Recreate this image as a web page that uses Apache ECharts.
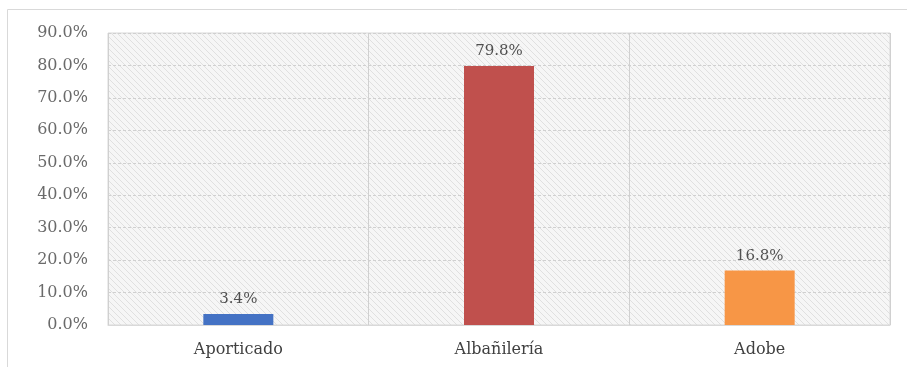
<!DOCTYPE html>
<html><head><meta charset="utf-8">
<script src="https://cdn.jsdelivr.net/npm/echarts@6/dist/echarts.min.js"></script>
<style>html,body{margin:0;padding:0;background:#fff}#c{width:907px;height:367px}</style>
</head><body><div id="c"></div>
<script>
var categories = ['Aporticado', 'Albañilería', 'Adobe'];
var values = [3.4, 79.8, 16.8];
var barColors = ['#4472c4', '#c0504d', '#f79646'];
var yTicks = [0, 10, 20, 30, 40, 50, 60, 70, 80, 90];

function makePattern() {
  var c = document.createElement('canvas');
  c.width = 6; c.height = 6;
  var g = c.getContext('2d');
  g.fillStyle = '#f6f6f6'; g.fillRect(0, 0, 6, 6);
  g.strokeStyle = '#e0e0e0'; g.lineWidth = 1;
  g.beginPath();
  g.moveTo(0, 0); g.lineTo(6, 6);
  g.moveTo(-3, 3); g.lineTo(3, 9);
  g.moveTo(3, -3); g.lineTo(9, 3);
  g.stroke();
  return c;
}

var chart = echarts.init(document.getElementById('c'), null, {renderer: 'canvas'});
var font = '"DejaVu Serif", "Liberation Serif", serif';
chart.setOption({
  animation: false,
  graphic: [{
    type: 'rect', shape: {x: 7.5, y: 9.5, width: 910, height: 370},
    style: {fill: 'none', stroke: '#d9d9d9', lineWidth: 1}, z: -10
  }],
  grid: {
    left: 108, top: 33, right: 17, bottom: 42,
    show: true,
    backgroundColor: {image: makePattern(), repeat: 'repeat'},
    borderColor: '#d9d9d9', borderWidth: 1
  },
  xAxis: {
    type: 'category', data: categories,
    axisLine: {show: true, lineStyle: {color: '#d9d9d9'}},
    axisTick: {show: false},
    splitLine: {show: true, lineStyle: {color: '#d0d0d0', width: 1}},
    axisLabel: {fontFamily: font, fontSize: 16, color: '#404040', margin: 17}
  },
  yAxis: {
    type: 'value', min: yTicks[0], max: yTicks[yTicks.length - 1], interval: 10,
    axisLine: {show: false}, axisTick: {show: false},
    splitLine: {show: true, lineStyle: {color: '#d0d0d0', type: [3, 2]}},
    axisLabel: {fontFamily: font, fontSize: 16, color: '#6a6a6a', margin: 20,
      formatter: function (v) { return v.toFixed(1) + '%'; }}
  },
  series: [{
    type: 'bar',
    data: values.map(function (v, i) { return {value: v, itemStyle: {color: barColors[i]}}; }),
    barWidth: 70,
    label: {show: true, position: 'top', distance: 7, fontFamily: font, fontSize: 15, color: '#505050',
      formatter: function (p) { return p.value.toFixed(1) + '%'; }}
  }]
});
</script></body></html>
